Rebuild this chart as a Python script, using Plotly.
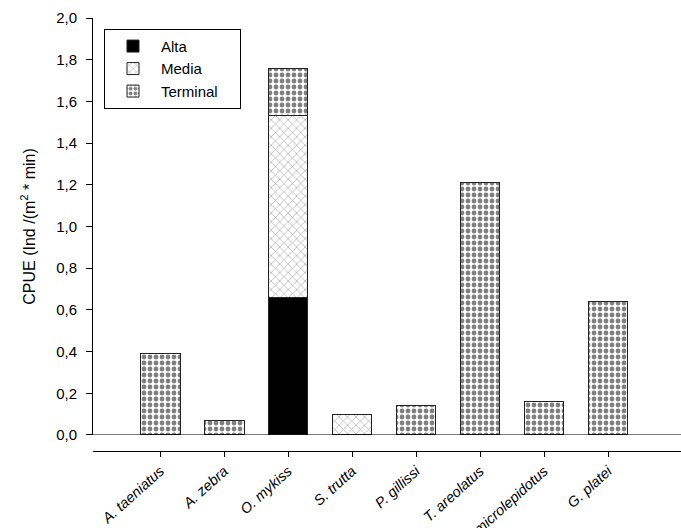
import plotly.graph_objects as go

# CPUE per species, split by river section
species = ["A. taeniatus", "A. zebra", "O. mykiss", "S. trutta",
           "P. gillissi", "T. areolatus", "B. microlepidotus", "G. platei"]
alta = [None, None, 0.66, None, None, None, None, None]
media = [None, None, 0.87, 0.10, None, None, None, None]
terminal = [0.39, 0.07, 0.23, None, 0.14, 1.21, 0.16, 0.64]

y_ticks = [0.0, 0.2, 0.4, 0.6, 0.8, 1.0, 1.2, 1.4, 1.6, 1.8, 2.0]

FONT = "Arial, Liberation Sans, sans-serif"
EDGE = dict(color="#222222", width=1)
BAR_W = 0.62
PAD = "\u00a0" * 4  # extra room on the right side of the legend box

fig = go.Figure()
fig.add_trace(go.Bar(
    name="Alta", x=species, y=alta, width=BAR_W,
    marker=dict(color="black", line=EDGE),
))
fig.add_trace(go.Bar(
    name="Media", x=species, y=media, width=BAR_W,
    marker=dict(color="white", line=EDGE,
                pattern=dict(shape="x", fgcolor="#555555", bgcolor="white",
                             size=6, solidity=0.22)),
))
fig.add_trace(go.Bar(
    name="Terminal" + PAD, x=species, y=terminal, width=BAR_W,
    marker=dict(color="white", line=EDGE,
                pattern=dict(shape=".", fgcolor="black", bgcolor="white",
                             size=6, solidity=0.5)),
))

# baseline of the bars, spanning the full plot width
fig.add_shape(type="line", xref="paper", yref="y", x0=0, x1=1, y0=0, y1=0,
              line=dict(color="black", width=1))

fig.update_layout(
    width=681, height=528,
    margin=dict(l=93, r=0, t=18, b=77, autoexpand=False),
    barmode="stack",
    separators=",.",
    plot_bgcolor="white", paper_bgcolor="white",
    font=dict(family=FONT, size=15, color="black"),
    showlegend=True,
    legend=dict(
        x=0.0187, y=0.975, xanchor="left", yanchor="top",
        traceorder="normal",
        bordercolor="black", borderwidth=1, bgcolor="white",
        font=dict(family=FONT, size=15, color="black"),
        itemwidth=46,
    ),
    xaxis=dict(
        range=[-1.05, 8.14],
        anchor="free", position=0,
        automargin=False,
        showline=True, linecolor="black", linewidth=1,
        ticks="outside", ticklen=5, tickcolor="black",
        tickangle=-42,
        tickfont=dict(family=FONT, size=14.5, style="italic"),
        showgrid=False, zeroline=False,
    ),
    yaxis=dict(
        domain=[0.037, 1],
        range=[0, 2.0],
        automargin=False,
        tickvals=y_ticks,
        tickformat=".1f",
        showline=True, linecolor="black", linewidth=1,
        ticks="outside", ticklen=6, tickcolor="black",
        ticklabelstandoff=6,
        tickfont=dict(family=FONT, size=15),
        showgrid=False, zeroline=False,
        title=dict(text="CPUE (Ind /(m<sup>2</sup> * min)",
                   font=dict(family=FONT, size=16), standoff=16),
    ),
)

fig.write_html("out.html")
